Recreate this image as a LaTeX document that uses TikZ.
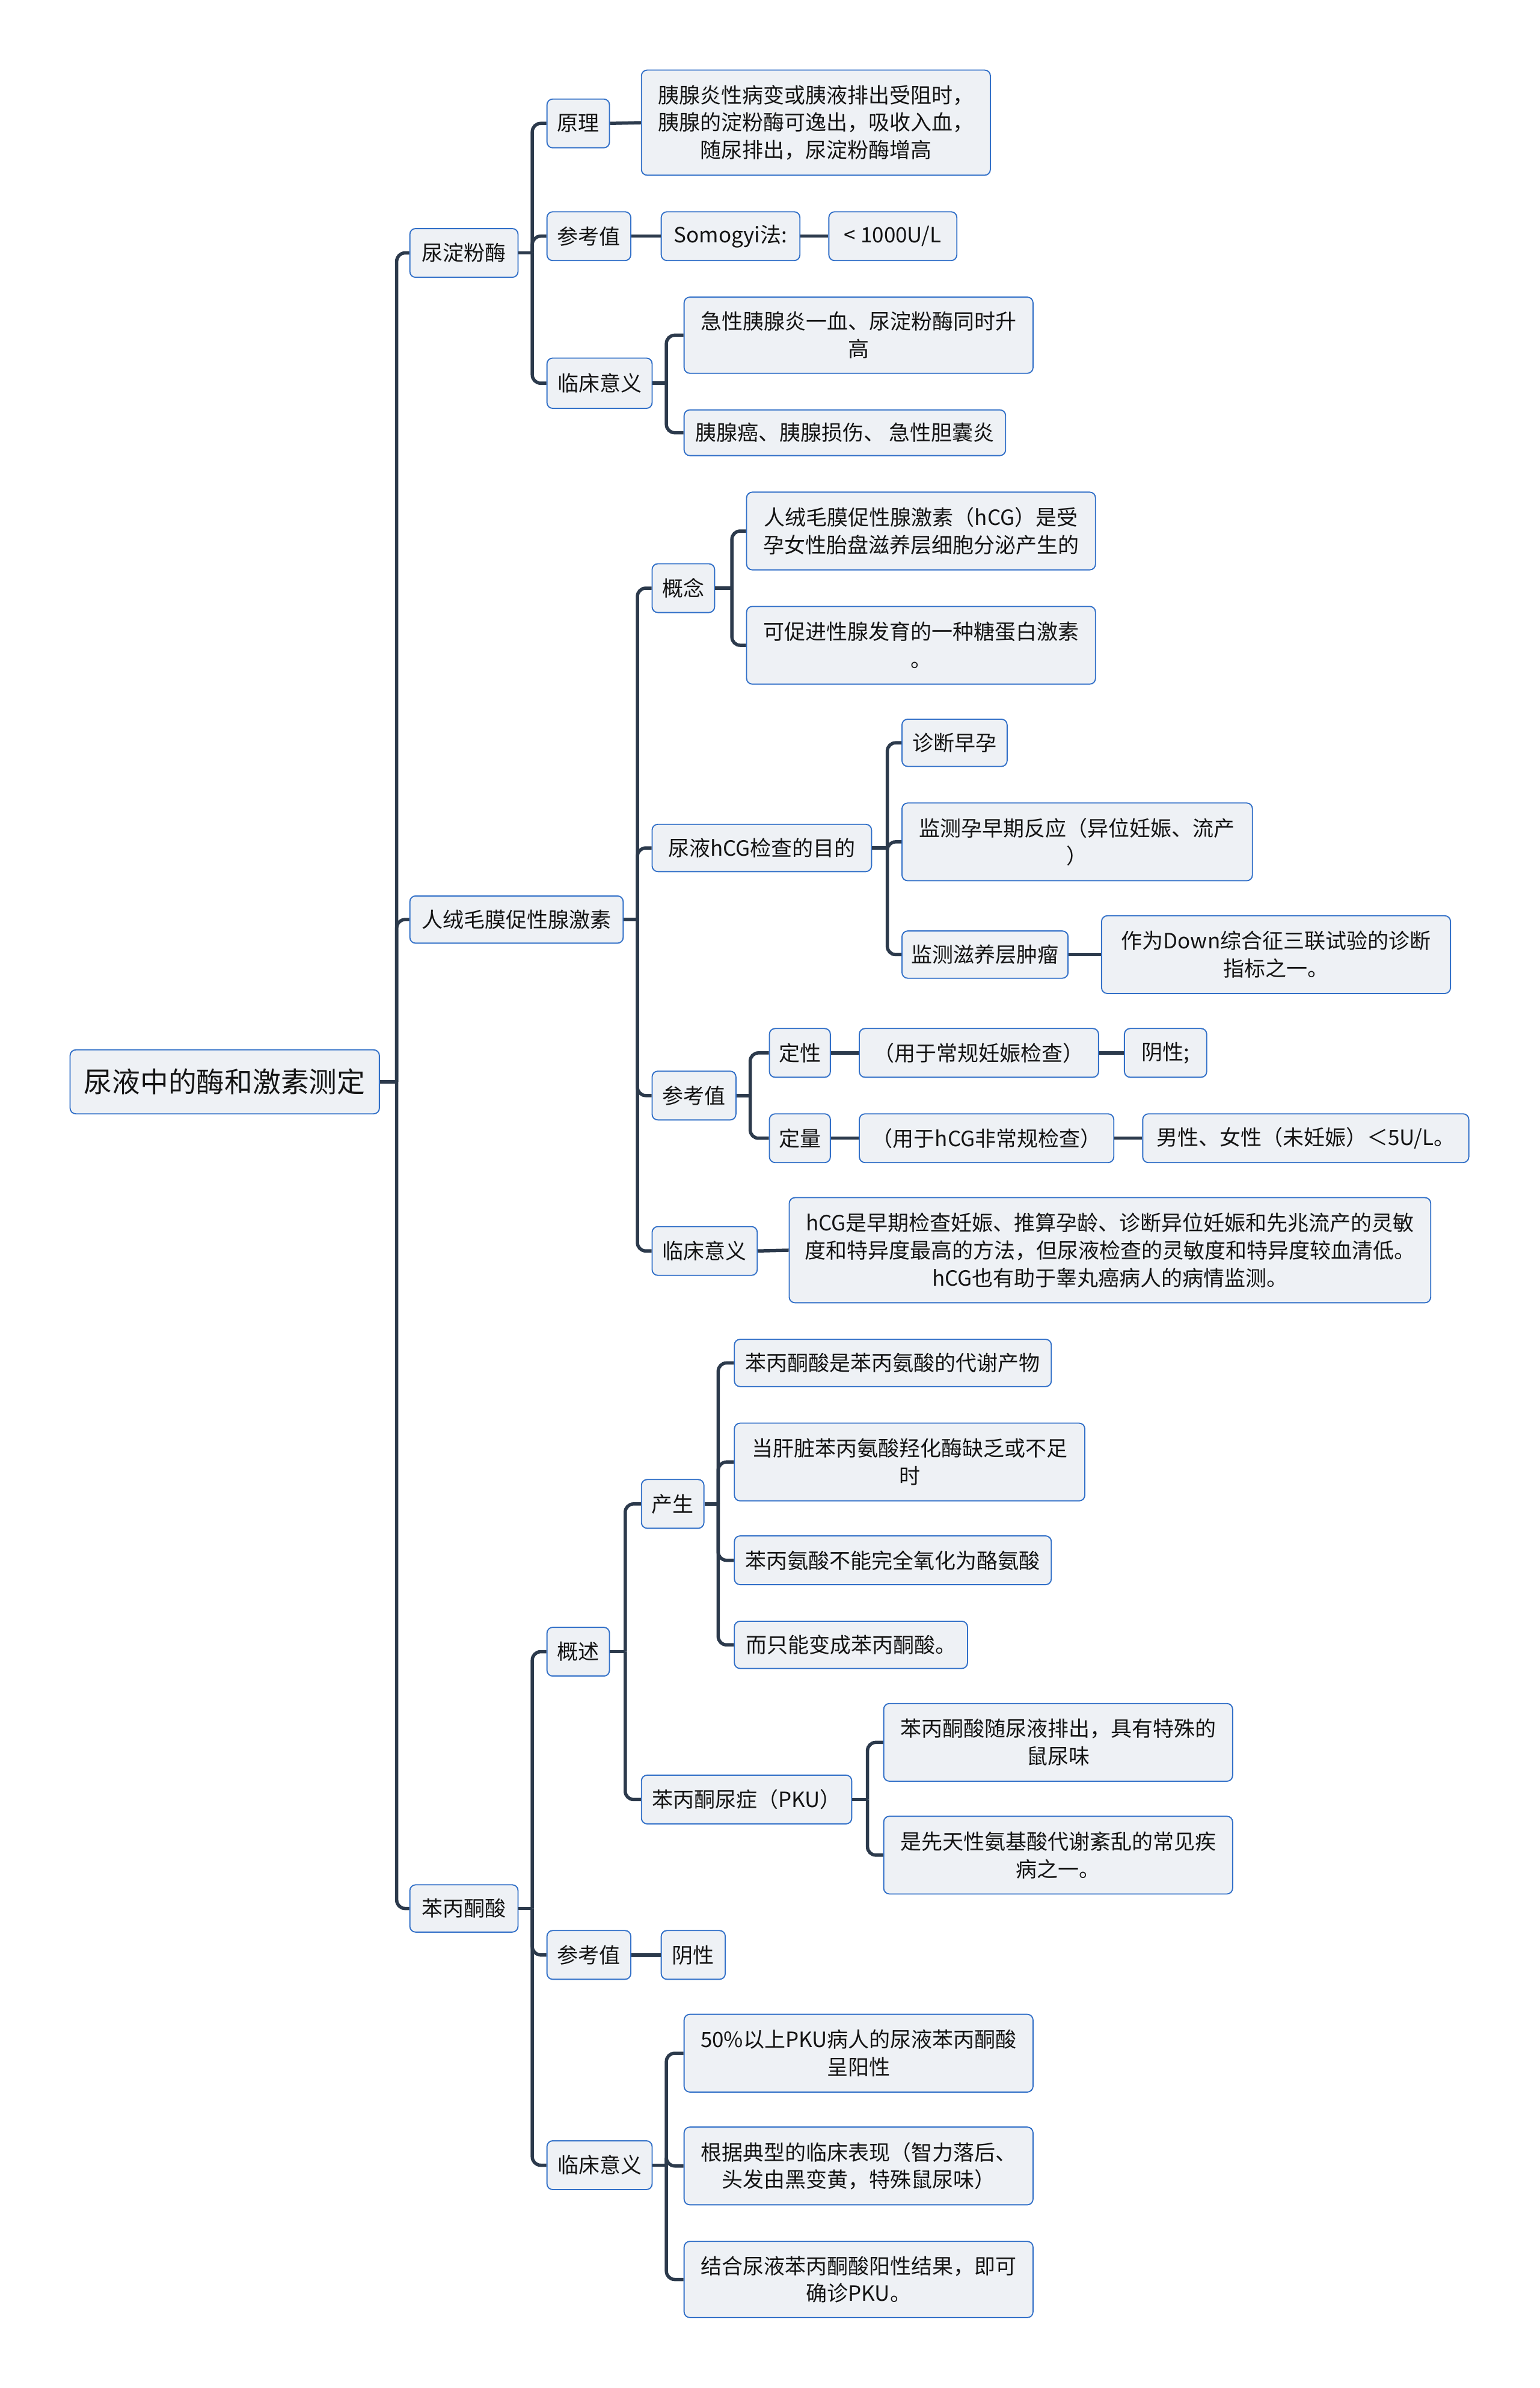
\documentclass[tikz,border=0pt]{standalone}
\usepackage{fontspec}
\setmainfont{Noto Sans CJK SC}
\usetikzlibrary{calc}
\definecolor{boxfill}{HTML}{EEF1F5}
\definecolor{boxline}{HTML}{3270C8}
\definecolor{linkc}{HTML}{2C3A4C}
\definecolor{txt}{HTML}{141414}
\tikzset{
  box/.style={draw=boxline, fill=boxfill, line width=0.75pt, rounded corners=3.8pt,
    inner sep=0pt, align=center, text=txt,
    font=\fontsize{14}{18.3}\selectfont},
  rootbox/.style={box, font=\fontsize{18.7}{24}\selectfont},
  conn/.style={draw=linkc, line width=2.2pt}
}
\newcommand\bx[7][box]{\node[#1, minimum width={(#5-#3)*1.0135pt}, minimum height={(#6-#4)*1.0135pt}] (#2) at ({(#3+#5)/2},{-(#4+#6)/2}) {#7};}
\newcommand\jn[2]{\coordinate (#1-j) at ($(#1.east)+(#2,0)$); \draw[conn] (#1.east) -- (#1-j);}
\newcommand\ch[2]{\draw[conn, rounded corners=5.5pt] (#1-j) |- (#2.west);}
\newcommand\lk[2]{\draw[conn] (#1.east) -- (#2.west);}
\begin{document}
\begin{tikzpicture}[x=1.0135pt,y=1.0135pt]
\useasboundingbox (0,0) rectangle (1010.36,-1567.24);
\fill[white] (0,0) rectangle (1010.36,-1567.24);
% nodes
\bx[rootbox]{root}{46}{689}{249}{731}{尿液中的酶和激素测定}
\bx{a1}{269}{150}{340}{182}{尿淀粉酶}
\bx{a2}{269}{588}{409}{619}{人绒毛膜促性腺激素}
\bx{a3}{269}{1237}{340}{1268}{苯丙酮酸}
% 尿淀粉酶
\bx{b1}{359}{65}{400}{97}{原理}
\bx{b1t}{421}{46}{650}{115}{胰腺炎性病变或胰液排出受阻时，\\胰腺的淀粉酶可逸出，吸收入血，\\随尿排出，尿淀粉酶增高}
\bx{b2}{359}{139}{414}{171}{参考值}
\bx{b2a}{434}{139}{525}{171}{Somogyi法:}
\bx{b2b}{544}{139}{628}{171}{< 1000U/L}
\bx{b3}{359}{235}{428}{268}{临床意义}
\bx{b3a}{449}{195}{678}{245}{急性胰腺炎一血、尿淀粉酶同时升\\高}
\bx{b3b}{449}{269}{660}{299}{胰腺癌、胰腺损伤、 急性胆囊炎}
% hCG
\bx{c1}{428}{370}{469}{402}{概念}
\bx{c1a}{490}{323}{719}{374}{人绒毛膜促性腺激素（hCG）是受\\孕女性胎盘滋养层细胞分泌产生的}
\bx{c1b}{490}{398}{719}{449}{可促进性腺发育的一种糖蛋白激素\\。}
\bx{c2}{428}{541}{572}{572}{尿液hCG检查的目的}
\bx{c2a}{592}{472}{661}{503}{诊断早孕}
\bx{c2b}{592}{527}{822}{578}{监测孕早期反应（异位妊娠、流产\\）}
\bx{c2c}{592}{611}{701}{642}{监测滋养层肿瘤}
\bx{c2d}{723}{601}{952}{652}{作为Down综合征三联试验的诊断\\指标之一。}
\bx{c3}{428}{703}{483}{735}{参考值}
\bx{c3a}{505}{675}{545}{707}{定性}
\bx{c3b}{564}{675}{721}{707}{（用于常规妊娠检查）}
\bx{c3c}{738}{675}{792}{707}{阴性;}
\bx{c3d}{505}{731}{545}{763}{定量}
\bx{c3e}{564}{731}{731}{763}{（用于hCG非常规检查）}
\bx{c3f}{750}{731}{964}{763}{男性、女性（未妊娠）＜5U/L。}
\bx{c4}{428}{805}{497}{837}{临床意义}
\bx{c4a}{518}{786}{939}{855}{hCG是早期检查妊娠、推算孕龄、诊断异位妊娠和先兆流产的灵敏\\度和特异度最高的方法，但尿液检查的灵敏度和特异度较血清低。\\hCG也有助于睾丸癌病人的病情监测。}
% 苯丙酮酸
\bx{d1}{359}{1068}{400}{1100}{概述}
\bx{d1a}{421}{971}{462}{1003}{产生}
\bx{d1a1}{482}{879}{690}{910}{苯丙酮酸是苯丙氨酸的代谢产物}
\bx{d1a2}{482}{934}{712}{985}{当肝脏苯丙氨酸羟化酶缺乏或不足\\时}
\bx{d1a3}{482}{1008}{690}{1040}{苯丙氨酸不能完全氧化为酪氨酸}
\bx{d1a4}{482}{1064}{635}{1095}{而只能变成苯丙酮酸。}
\bx{d1b}{421}{1165}{559}{1197}{苯丙酮尿症（PKU）}
\bx{d1b1}{580}{1118}{809}{1169}{苯丙酮酸随尿液排出，具有特殊的\\鼠尿味}
\bx{d1b2}{580}{1192}{809}{1243}{是先天性氨基酸代谢紊乱的常见疾\\病之一。}
\bx{d2}{359}{1267}{414}{1299}{参考值}
\bx{d2a}{434}{1267}{476}{1299}{阴性}
\bx{d3}{359}{1405}{428}{1437}{临床意义}
\bx{d3a}{449}{1322}{678}{1373}{50\%以上PKU病人的尿液苯丙酮酸\\呈阳性}
\bx{d3b}{449}{1396}{678}{1447}{根据典型的临床表现（智力落后、\\头发由黑变黄，特殊鼠尿味）}
\bx{d3c}{449}{1471}{678}{1521}{结合尿液苯丙酮酸阳性结果，即可\\确诊PKU。}
% connectors
\jn{root}{11} \ch{root}{a1} \ch{root}{a2} \ch{root}{a3}
\jn{a1}{9} \ch{a1}{b1} \ch{a1}{b2} \ch{a1}{b3}
\lk{b1}{b1t} \lk{b2}{b2a} \lk{b2a}{b2b}
\jn{b3}{9} \ch{b3}{b3a} \ch{b3}{b3b}
\jn{a2}{9} \ch{a2}{c1} \ch{a2}{c2} \ch{a2}{c3} \ch{a2}{c4}
\jn{c1}{11} \ch{c1}{c1a} \ch{c1}{c1b}
\jn{c2}{10} \ch{c2}{c2a} \ch{c2}{c2b} \ch{c2}{c2c}
\lk{c2c}{c2d}
\jn{c3}{9} \ch{c3}{c3a} \ch{c3}{c3d}
\lk{c3a}{c3b} \lk{c3b}{c3c} \lk{c3d}{c3e} \lk{c3e}{c3f}
\lk{c4}{c4a}
\jn{a3}{9} \ch{a3}{d1} \ch{a3}{d2} \ch{a3}{d3}
\jn{d1}{10} \ch{d1}{d1a} \ch{d1}{d1b}
\jn{d1a}{9} \ch{d1a}{d1a1} \ch{d1a}{d1a2} \ch{d1a}{d1a3} \ch{d1a}{d1a4}
\jn{d1b}{10} \ch{d1b}{d1b1} \ch{d1b}{d1b2}
\lk{d2}{d2a}
\jn{d3}{9} \ch{d3}{d3a} \ch{d3}{d3b} \ch{d3}{d3c}
\end{tikzpicture}
\end{document}
